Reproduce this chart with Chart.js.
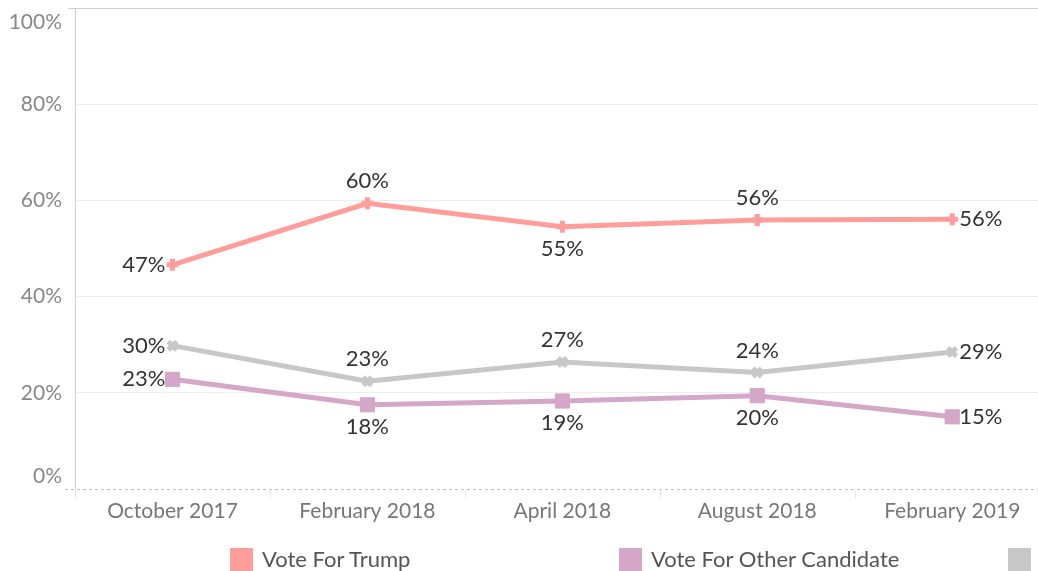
<!DOCTYPE html>
<html>
<head>
    <title>Vote Intention</title>
    <script src="https://cdn.jsdelivr.net/npm/chart.js"></script>
    <style>
        body { margin: 0; width: 1038px; height: 571px; overflow: hidden; background: #fff; position: relative; font-family: Lato, sans-serif; }
        #wrap { position: absolute; left: 0; top: 0; width: 1038px; height: 571px; }
        .key { position: absolute; top: 548px; width: 23px; height: 23px; }
        .keytext { position: absolute; top: 545px; font-size: 22px; color: #555; white-space: nowrap; }
    </style>
</head>
<body>
    <div id="wrap"><canvas id="lineChart"></canvas></div>
    <div class="key" style="left:230px;background:#FF9D9A"></div>
    <div class="keytext" style="left:262px">Vote For Trump</div>
    <div class="key" style="left:619px;background:#D4A6C8"></div>
    <div class="keytext" style="left:651px">Vote For Other Candidate</div>
    <div class="key" style="left:1008px;background:#C7C7C7"></div>
    <script>
        var months = ['October 2017', 'February 2018', 'April 2018', 'August 2018', 'February 2019'];
        var yTicks = [0, 20, 40, 60, 80, 100];

        var trumpValues = [46.6, 59.4, 54.5, 55.9, 56.1];
        var trumpLabels = ['47%', '60%', '55%', '56%', '56%'];
        var otherValues = [22.8, 17.5, 18.3, 19.4, 15.0];
        var otherLabels = ['23%', '18%', '19%', '20%', '15%'];
        var grayValues = [29.8, 22.4, 26.4, 24.2, 28.5];
        var grayLabels = ['30%', '23%', '27%', '24%', '29%'];

        // where each value label sits relative to its point
        var trumpPos = ['left', 'above', 'below', 'above', 'right'];
        var otherPos = ['left', 'below', 'below', 'below', 'right'];
        var grayPos = ['left', 'above', 'above', 'above', 'right'];

        var labelFont = '22px Lato, sans-serif';

        var decorPlugin = {
            id: 'decor',
            beforeDatasetsDraw: function (chart) {
                var ctx = chart.ctx, area = chart.chartArea;
                var x = chart.scales.x, y = chart.scales.y;
                ctx.save();
                // top frame line
                ctx.strokeStyle = '#cfcfcf';
                ctx.lineWidth = 1;
                ctx.beginPath();
                ctx.moveTo(68, area.top + 0.5);
                ctx.lineTo(area.right, area.top + 0.5);
                ctx.stroke();
                // dashed zero line
                var y0 = Math.round(y.getPixelForValue(0)) + 0.5;
                ctx.strokeStyle = '#bdbdbd';
                ctx.setLineDash([3, 3]);
                ctx.beginPath();
                ctx.moveTo(65, y0);
                ctx.lineTo(area.right, y0);
                ctx.stroke();
                ctx.setLineDash([]);
                // small category separators under the axis
                ctx.strokeStyle = '#e6e6e6';
                for (var i = 0; i <= months.length; i++) {
                    var px = Math.round(x.getPixelForValue(i - 0.5)) + 0.5;
                    ctx.beginPath();
                    ctx.moveTo(px, y0);
                    ctx.lineTo(px, y0 + 9);
                    ctx.stroke();
                }
                // y tick labels, kept inside the frame like the original
                ctx.fillStyle = '#888';
                ctx.font = '21px Lato, sans-serif';
                ctx.textAlign = 'right';
                ctx.textBaseline = 'middle';
                yTicks.forEach(function (v) {
                    var py = y.getPixelForValue(v);
                    py = Math.min(Math.max(py, 22), 476);
                    ctx.fillText(v + '%', 62, py);
                });
                ctx.restore();
            },
            afterDatasetsDraw: function (chart) {
                var ctx = chart.ctx;
                ctx.save();
                ctx.font = labelFont;
                ctx.fillStyle = '#333';
                chart.data.datasets.forEach(function (ds, di) {
                    var meta = chart.getDatasetMeta(di);
                    meta.data.forEach(function (pt, i) {
                        var pos = ds.labelPos[i], txt = ds.valueLabels[i];
                        ctx.textBaseline = 'middle';
                        if (pos === 'left') {
                            ctx.textAlign = 'right';
                            ctx.fillText(txt, pt.x - 7, pt.y);
                        } else if (pos === 'right') {
                            ctx.textAlign = 'left';
                            ctx.fillText(txt, pt.x + 7, pt.y);
                        } else if (pos === 'above') {
                            ctx.textAlign = 'center';
                            ctx.fillText(txt, pt.x, pt.y - 22);
                        } else {
                            ctx.textAlign = 'center';
                            ctx.fillText(txt, pt.x, pt.y + 22);
                        }
                    });
                });
                ctx.restore();
            }
        };

        function series(label, values, labels, pos, color, style, radius) {
            return {
                label: label,
                data: values.map(function (v, i) { return { x: i, y: v }; }),
                valueLabels: labels,
                labelPos: pos,
                borderColor: color,
                backgroundColor: color,
                pointBackgroundColor: color,
                pointBorderColor: color,
                borderWidth: 5,
                pointStyle: style,
                pointRadius: radius,
                pointBorderWidth: style === 'rect' ? 1 : 5,
                tension: 0
            };
        }

        var ctx = document.getElementById('lineChart').getContext('2d');
        var lineChart = new Chart(ctx, {
            type: 'line',
            data: {
                datasets: [
                    series('Other', grayValues, grayLabels, grayPos, '#C7C7C7', 'crossRot', 6),
                    series('Vote For Other Candidate', otherValues, otherLabels, otherPos, '#D4A6C8', 'rect', 10),
                    series('Vote For Trump', trumpValues, trumpLabels, trumpPos, '#FF9D9A', 'cross', 6)
                ]
            },
            options: {
                responsive: true,
                maintainAspectRatio: false,
                animation: false,
                layout: { autoPadding: false, padding: { top: 8, right: 0, bottom: 0, left: 0 } },
                plugins: {
                    legend: { display: false },
                    tooltip: { enabled: false }
                },
                scales: {
                    x: {
                        type: 'linear',
                        min: -0.5,
                        max: 4.44,
                        afterBuildTicks: function (scale) {
                            scale.ticks = months.map(function (m, i) { return { value: i }; });
                        },
                        afterFit: function (scale) { scale.height = 82; },
                        grid: { display: false },
                        border: { display: false },
                        ticks: {
                            padding: 2,
                            maxRotation: 0,
                            autoSkip: false,
                            color: '#777',
                            font: { family: 'Lato, sans-serif', size: 21 },
                            callback: function (v) { return months[v]; }
                        }
                    },
                    y: {
                        min: 0,
                        max: 100,
                        afterBuildTicks: function (scale) {
                            scale.ticks = yTicks.map(function (v) { return { value: v }; });
                        },
                        afterFit: function (scale) { scale.width = 75; },
                        grid: {
                            drawTicks: false,
                            color: function (c) {
                                return (c.tick && (c.tick.value === 0 || c.tick.value === 100)) ? 'rgba(0,0,0,0)' : '#eeeeee';
                            }
                        },
                        border: { color: '#cfcfcf' },
                        ticks: { display: false }
                    }
                }
            },
            plugins: [decorPlugin]
        });
    </script>
</body>
</html>
